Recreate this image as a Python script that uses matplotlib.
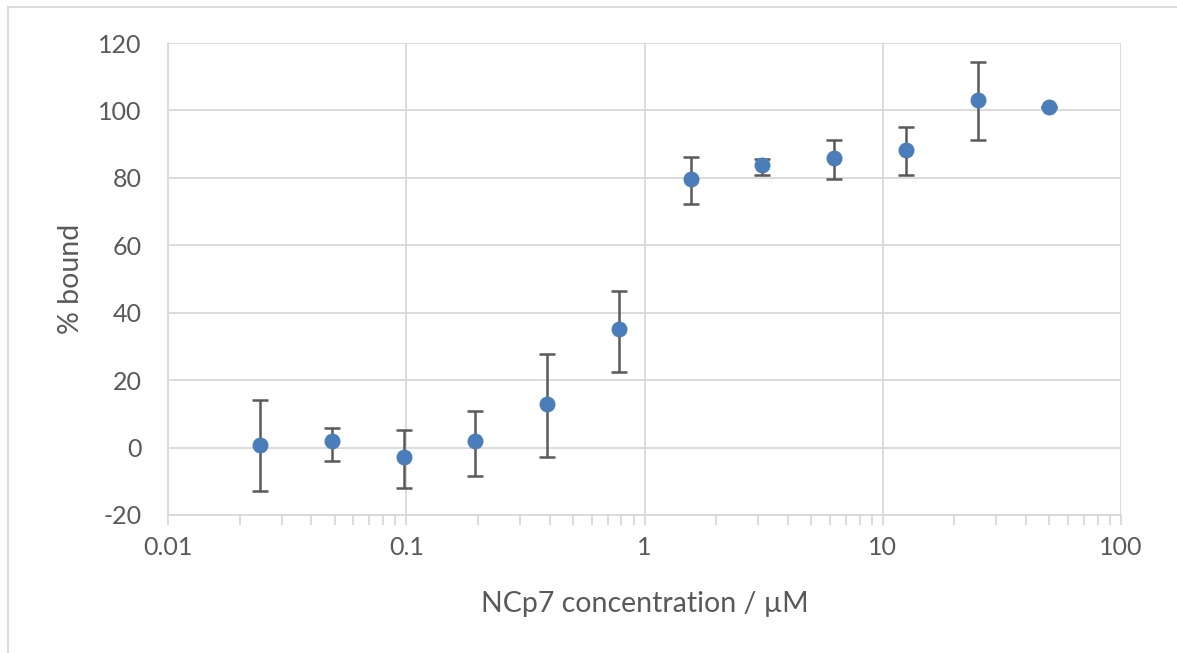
import matplotlib
matplotlib.use("Agg")
import matplotlib.pyplot as plt
from matplotlib.lines import Line2D
from matplotlib.ticker import LogLocator, FixedLocator, FuncFormatter, NullFormatter

plt.rcParams['font.family'] = ['Lato', 'DejaVu Sans']
plt.rcParams['axes.unicode_minus'] = False

# NCp7 titration: concentration (µM), mean % bound and error bar extents
conc = [0.0244, 0.0488, 0.0977, 0.195, 0.39, 0.78, 1.5625, 3.125, 6.25, 12.5, 25, 50]
bound = [0.8, 2.0, -2.8, 2.0, 13.0, 35.3, 79.6, 83.7, 85.8, 88.2, 103.1, 100.9]
err_up = [13.4, 3.9, 8.1, 8.9, 14.9, 11.0, 6.5, 1.8, 5.4, 6.8, 11.4, 0.0]
err_down = [13.7, 5.9, 9.2, 10.4, 15.8, 12.8, 7.4, 2.9, 6.2, 7.4, 12.0, 0.0]

x_ticks = [0.01, 0.1, 1, 10, 100]
y_ticks = [-20, 0, 20, 40, 60, 80, 100, 120]

text_col = '#595959'
grid_col = '#d9d9d9'
marker_col = '#4a7ebb'
err_col = '#595959'

fig = plt.figure(figsize=(11.77, 6.53), dpi=100)
ax = fig.add_axes([168 / 1177, 1 - 515 / 653, (1121 - 168) / 1177, (515 - 43) / 653])

ax.set_xscale('log')
ax.set_xlim(0.01, 100)
ax.set_ylim(-20, 120)

ax.errorbar(conc, bound, yerr=[err_down, err_up], fmt='none',
            ecolor=err_col, elinewidth=1.8, capsize=6, capthick=1.8, zorder=3)
ax.plot(conc, bound, 'o', color=marker_col, markersize=11.5,
        markeredgewidth=0, zorder=4)

ax.xaxis.set_major_locator(FixedLocator(x_ticks))
ax.xaxis.set_major_formatter(FuncFormatter(lambda v, p: f'{v:g}'))
ax.xaxis.set_minor_locator(LogLocator(base=10, subs=range(2, 10)))
ax.xaxis.set_minor_formatter(NullFormatter())
ax.yaxis.set_major_locator(FixedLocator(y_ticks))

ax.grid(True, which='major', color=grid_col, linewidth=1.3, zorder=0)
ax.set_axisbelow(True)

for side in ['top', 'right']:
    ax.spines[side].set_visible(False)
for side in ['left', 'bottom']:
    ax.spines[side].set_color(grid_col)
    ax.spines[side].set_linewidth(1.3)

ax.tick_params(axis='x', which='both', direction='out', color=grid_col,
               width=1.3, labelcolor=text_col, labelsize=18, pad=8)
ax.tick_params(axis='x', which='major', length=7)
ax.tick_params(axis='x', which='minor', length=7)
ax.tick_params(axis='y', which='both', length=0, labelcolor=text_col,
               labelsize=18, pad=19)

ax.set_xlabel('NCp7 concentration / µM', fontsize=20.5, color=text_col, labelpad=23)
ax.set_ylabel('% bound', fontsize=20.5, color=text_col, labelpad=10)

# chart-area frame (top and left edges)
fig.add_artist(Line2D([8 / 1177, 1], [1 - 7 / 653, 1 - 7 / 653],
                      transform=fig.transFigure, color=grid_col, linewidth=1.3))
fig.add_artist(Line2D([8 / 1177, 8 / 1177], [0, 1 - 7 / 653],
                      transform=fig.transFigure, color=grid_col, linewidth=1.3))

fig.savefig('out.png', dpi=100)
